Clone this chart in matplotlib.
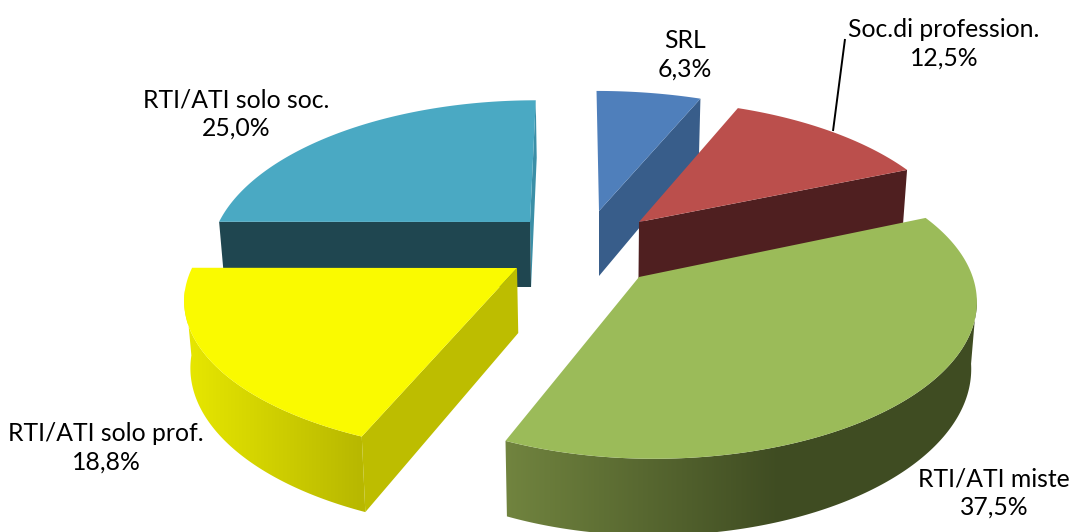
import numpy as np
import matplotlib
matplotlib.use("Agg")
import matplotlib.pyplot as plt
from matplotlib.patches import Polygon
from matplotlib.colors import LinearSegmentedColormap

# shares, clockwise from 12 o'clock
categories = ["SRL", "Soc.di profession.", "RTI/ATI miste", "RTI/ATI solo prof.", "RTI/ATI solo soc."]
values = [6.3, 12.5, 37.5, 18.8, 25.0]

top_colors = ["#4f7fbb", "#bb4f4c", "#9bbb59", "#fafa00", "#4aa9c3"]
side_colors = ["#385d8a", "#4f1f20", "#3f4c22", "#bdbd00", "#1f4650"]
rim_colors = [None, None, ("#71843f", "#3f4c22"), ("#e6e600", "#b8b800"), None]

# centre of each exploded slice, in pixels
apex_x = [599, 639, 658, 517, 530]
apex_y = [211, 222, 270, 268, 222]
radius_x = [323, 315, 312, 325, 311]
radius_y = [146, 148, 148, 146, 148]
lean = [-3, -3, 3, 0, 7]

# the visible point of the slice (green one is pulled under the red)
tip_x = [599, 639, 639, 517, 530]
tip_y = [211, 222, 277, 268, 222]

label_x = [685, 944, 994, 106, 236]
label_y = [55, 44, 493, 448, 114]

persp = 0.216
depth = 65
draw_order = [4, 0, 1, 3, 2]


def rim_point(i, ang):
    # project a point of the circle (angle in rad, clockwise from top)
    sx, cy = np.sin(ang), np.cos(ang)
    w = 1 + persp * cy
    return apex_x[i] + (radius_x[i] * sx + lean[i] * cy) / w, apex_y[i] - radius_y[i] * cy / w, w


def drop(x, y, w):
    # same point, at the bottom of the slice
    d = depth * (1 + 0.65 * (1 / w - 1))
    return x + 0.015 * (600 - x), y + d


def main():
    fig = plt.figure(figsize=(10.7, 5.32), dpi=100)
    ax = fig.add_axes([0, 0, 1, 1])
    ax.axis("off")

    edges = np.radians(np.cumsum([0] + values) / np.sum(values) * 360)

    for i in draw_order:
        angs = np.linspace(edges[i], edges[i + 1], 200)
        x, y, w = rim_point(i, angs)
        bx, by = drop(x, y, w)
        px, py = tip_x[i], tip_y[i]
        bpx, bpy = drop(px, py, 1.0)

        # the flat side faces first
        if i == 4:
            ax.add_patch(Polygon([(x[-1], y[-1]), (px, py), (bpx, bpy), (bx[-1], by[-1])],
                                 fc="#3b8fa7", ec="none"))
            ax.add_patch(Polygon([(x[0], y[0]), (px, py), (bpx, bpy), (bx[0], by[0])],
                                 fc=side_colors[i], ec="none"))
        elif i in (0, 1, 3):
            k = -1 if i != 3 else 0
            ax.add_patch(Polygon([(x[k], y[k]), (px, py), (bpx, bpy), (bx[k], by[k])],
                                 fc=side_colors[i], ec="none"))

        # curved front with its gradient, only up to where the outline is tangent
        if rim_colors[i] is not None:
            if i == 2:
                keep = np.degrees(angs) >= 100
            else:
                keep = np.degrees(angs) <= 262
            rim = Polygon(np.vstack([np.c_[x[keep], y[keep]], np.c_[bx[keep], by[keep]][::-1]]),
                          fc="none", ec="none")
            ax.add_patch(rim)
            cmap = LinearSegmentedColormap.from_list("rim", rim_colors[i])
            if i == 2:
                grad = np.clip((np.arange(505, 985) - 505) / 275, 0, 1)
                ext = (505, 985, 532, 200)
            else:
                grad = np.clip((np.arange(180, 370) - 190) / 170, 0, 1)
                ext = (180, 370, 532, 260)
            im = ax.imshow(grad[None, :], cmap=cmap, vmin=0, vmax=1, extent=ext, aspect="auto")
            im.set_clip_path(rim)

        ax.add_patch(Polygon(np.vstack([[(px, py)], np.c_[x, y]]), fc=top_colors[i], ec="none"))

    ax.set_xlim(0, 1070)
    ax.set_ylim(532, 0)

    # leader of the red slice
    ax.plot([845, 833], [39, 131], color="black", lw=1.4, solid_capstyle="butt")

    for i, name in enumerate(categories):
        pct = f"{values[i]:.1f}".replace(".", ",")
        ax.text(label_x[i], label_y[i], name + "\n" + pct + "%", ha="center", va="center",
                fontsize=17.8, family="Lato", color="black", linespacing=1.3)

    fig.savefig("out.png", dpi=100)


if __name__ == '__main__':
    main()
